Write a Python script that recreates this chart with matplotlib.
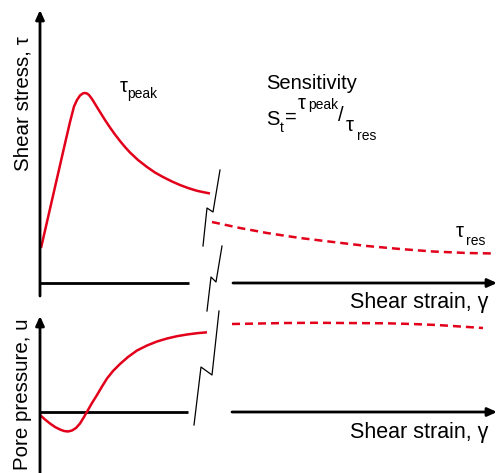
import numpy as np
import matplotlib
matplotlib.use('Agg')
import matplotlib.pyplot as plt

# curves (canvas units: x to the right, y downwards)
stress_x = [41, 45, 50, 55, 60, 65, 70, 74, 77, 80, 83, 85, 87, 89, 92, 96, 100,
            105, 110, 115, 120, 125, 130, 138, 147, 155, 163, 172, 180, 188, 197, 204, 210]
stress_y = [248, 230.6, 208.8, 187, 165.3, 143.5, 122, 106.5, 100, 95.5, 93.3, 93, 93.5, 95, 99, 105.5, 112,
            120, 127.5, 134.5, 141, 147, 152.5, 160, 167, 172.5, 177, 181.5, 185, 188, 190.8, 192.3, 193.5]
stress_res_x = [212, 240, 267, 300, 333, 367, 400, 433, 467, 495]
stress_res_y = [222, 228, 233, 238, 242, 246, 249, 251.5, 253, 253.5]

pore_x = [40, 45, 50, 55, 60, 64, 68, 72, 76, 80, 84, 88, 92, 97, 102, 107, 113,
          120, 128, 137, 147, 157, 167, 177, 187, 197, 207]
pore_y = [415, 419.5, 423.5, 427, 429.5, 431, 431.5, 430.5, 428, 423.5, 417, 410, 403, 395, 386.5, 378.5, 371,
          364, 357, 350.5, 345.5, 341.5, 338.5, 336.2, 334.5, 333.2, 332.3]
pore_res_x = [232, 260, 287, 315, 343, 387, 412, 437, 460, 483]
pore_res_y = [324, 323.5, 323, 322.8, 323, 323.3, 324, 325, 326.5, 328]

# break marks
break1 = [(203, 246), (207, 208), (213, 212), (220, 170)]
break2 = [(207, 311), (211, 277), (216, 282), (222, 246)]
break3 = [(194, 425), (201, 367), (212, 375), (219, 311)]

red = '#e2001a'
font = 'Liberation Sans'
plt.rcParams['font.family'] = [font, 'DejaVu Sans']

fig = plt.figure(figsize=(4.97, 4.73), dpi=100)
ax = fig.add_axes([0, 0, 1, 1])
ax.set_xlim(0, 497)
ax.set_ylim(473, 0)
ax.axis('off')

lw_ax = 2.0
arrow = dict(arrowstyle='-|>,head_length=0.55,head_width=0.25', color='black',
             lw=lw_ax, shrinkA=0, shrinkB=0)

# top panel axes
ax.annotate('', xy=(40, 10), xytext=(40, 296), arrowprops=arrow)
ax.plot([40, 189], [283, 283], color='black', lw=lw_ax, solid_capstyle='butt')
ax.annotate('', xy=(497, 283), xytext=(233, 283), arrowprops=arrow)

# bottom panel axes
ax.annotate('', xy=(40, 316), xytext=(40, 473), arrowprops=arrow)
ax.plot([40, 188], [412, 412], color='black', lw=lw_ax, solid_capstyle='butt')
ax.annotate('', xy=(497, 412), xytext=(232, 412), arrowprops=arrow)

# curves
ax.plot(stress_x, stress_y, color=red, lw=1.8, solid_capstyle='butt', solid_joinstyle='round')
ax.plot(stress_res_x, stress_res_y, color=red, lw=1.8, linestyle=(0, (3.2, 2.0)))
ax.plot(pore_x, pore_y, color=red, lw=1.8, solid_capstyle='butt', solid_joinstyle='round')
ax.plot(pore_res_x, pore_res_y, color=red, lw=1.8, linestyle=(0, (3.2, 2.0)))

for b in (break1, break2, break3):
    bx, by = zip(*b)
    ax.plot(bx, by, color='black', lw=0.9)

# labels
ax.text(23, 104, 'Shear stress, τ', rotation=90, ha='center', va='center', fontsize=14.8)
ax.text(23, 394, 'Pore pressure, u', rotation=90, ha='center', va='center', fontsize=14.8)
ax.text(488, 308, 'Shear strain, γ', ha='right', va='baseline', fontsize=15.5)
ax.text(488, 438, 'Shear strain, γ', ha='right', va='baseline', fontsize=15.5)

ax.text(120, 92, 'τ', ha='left', va='baseline', fontsize=14.5)
ax.text(127, 98, 'peak', ha='left', va='baseline', fontsize=10)
ax.text(456, 237, 'τ', ha='left', va='baseline', fontsize=14.5)
ax.text(466, 245, 'res', ha='left', va='baseline', fontsize=10)

ax.text(266, 89, 'Sensitivity', ha='left', va='baseline', fontsize=14.5)
ax.text(266, 125, 'S', ha='left', va='baseline', fontsize=14.5)
ax.text(279.5, 132, 't', ha='left', va='baseline', fontsize=10)
ax.text(285, 123, '=', ha='left', va='baseline', fontsize=14.5)
ax.text(298, 109, 'τ', ha='left', va='baseline', fontsize=14.5)
ax.text(308, 109, 'peak', ha='left', va='baseline', fontsize=10)
ax.text(338, 121, '/', ha='left', va='baseline', fontsize=14.5)
ax.text(346, 131, 'τ', ha='left', va='baseline', fontsize=14.5)
ax.text(357, 140, 'res', ha='left', va='baseline', fontsize=10)

plt.savefig('out.png', dpi=100)
